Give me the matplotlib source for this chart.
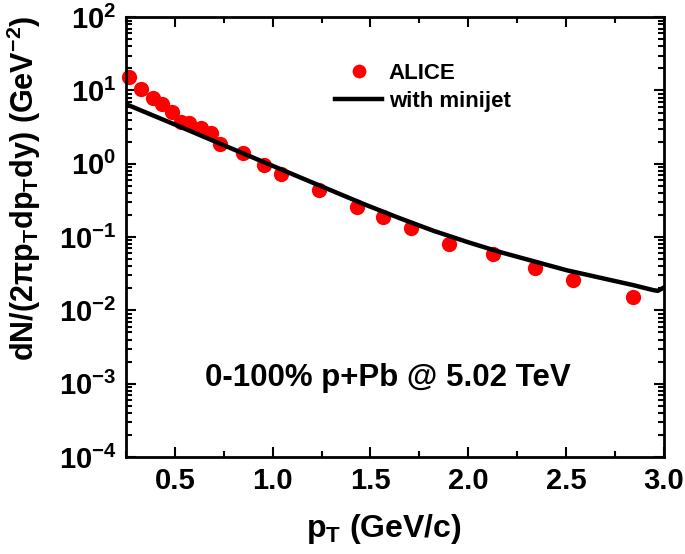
import matplotlib
matplotlib.use("Agg")
import matplotlib.pyplot as plt
from matplotlib.ticker import LogLocator, MultipleLocator, NullFormatter

plt.rcParams['font.family'] = ['Liberation Sans', 'DejaVu Sans']
plt.rcParams['font.weight'] = 'bold'
plt.rcParams['mathtext.fontset'] = 'custom'
plt.rcParams['mathtext.rm'] = 'Liberation Sans:bold'
plt.rcParams['mathtext.it'] = 'Liberation Sans:bold'
plt.rcParams['mathtext.bf'] = 'Liberation Sans:bold'

# ALICE data points
alice_pt = [0.265, 0.327, 0.387, 0.433, 0.485, 0.531, 0.572, 0.634, 0.685, 0.731,
            0.847, 0.956, 1.043, 1.239, 1.433, 1.563, 1.708, 1.901, 2.126, 2.344,
            2.538, 2.845]
alice_y = [15.2, 10.4, 7.85, 6.5, 5.06, 3.7, 3.58, 3.06, 2.6, 1.85,
           1.41, 0.96, 0.72, 0.436, 0.258, 0.189, 0.135, 0.0818, 0.058, 0.038,
           0.0258, 0.0153]

# model curve "with minijet"
model_pt = [0.25, 0.526, 0.731, 0.956, 1.242, 1.481, 1.65, 1.822, 2.0, 2.163,
            2.504, 2.845, 2.947, 2.97, 3.0]
model_y = [6.5, 3.21, 1.88, 1.05, 0.502, 0.272, 0.181, 0.122, 0.085, 0.0625,
           0.0353, 0.0221, 0.0189, 0.0185, 0.0205]

fig = plt.figure(figsize=(6.85, 5.54), dpi=100)
ax = fig.add_axes([0.184, 0.175, 0.785, 0.794])

ax.plot(model_pt, model_y, color='black', lw=3.2, label='with minijet', zorder=3)
ax.plot(alice_pt, alice_y, 'o', color='red', ms=11, mec='none', label='ALICE',
        zorder=2, clip_on=False)

ax.set_yscale('log')
ax.set_xlim(0.25, 3.0)
ax.set_ylim(1e-4, 1e2)

ax.xaxis.set_minor_locator(MultipleLocator(0.25))
ax.yaxis.set_major_locator(LogLocator(base=10, numticks=10))
ax.yaxis.set_minor_locator(LogLocator(base=10, subs=range(2, 10), numticks=20))
ax.yaxis.set_minor_formatter(NullFormatter())
ax.set_xticks([0.5, 1.0, 1.5, 2.0, 2.5, 3.0])
ax.set_xticklabels(['0.5', '1.0', '1.5', '2.0', '2.5', '3.0'])

ax.tick_params(which='both', direction='in', top=True, right=True, width=1.5)
ax.tick_params(which='major', length=7, labelsize=21, pad=7)
ax.tick_params(which='minor', length=4)
for s in ax.spines.values():
    s.set_linewidth(2)

ax.set_xlabel(r'p$_\mathregular{T}$ (GeV/c)', fontsize=23, fontweight='bold')
ax.xaxis.set_label_coords(0.48, -0.125)
ax.set_ylabel(r'dN/$\left(2\pi \mathregular{p_T dp_T dy}\right)$ (GeV$^{\mathregular{-2}}$)',
              fontsize=22, fontweight='bold')
ax.yaxis.set_label_coords(-0.155, 0.61)

ax.text(0.487, 0.18, '0-100% p+Pb @ 5.02 TeV', transform=ax.transAxes,
        ha='center', va='center', fontsize=22.5, fontweight='bold')

h, l = ax.get_legend_handles_labels()
ax.legend(h[::-1], l[::-1], loc='center', bbox_to_anchor=(0.552, 0.84),
          frameon=False, fontsize=16, handlelength=2.1, handletextpad=0.3,
          labelspacing=0.3, markerscale=0.9)

fig.savefig('out.png', dpi=100)
